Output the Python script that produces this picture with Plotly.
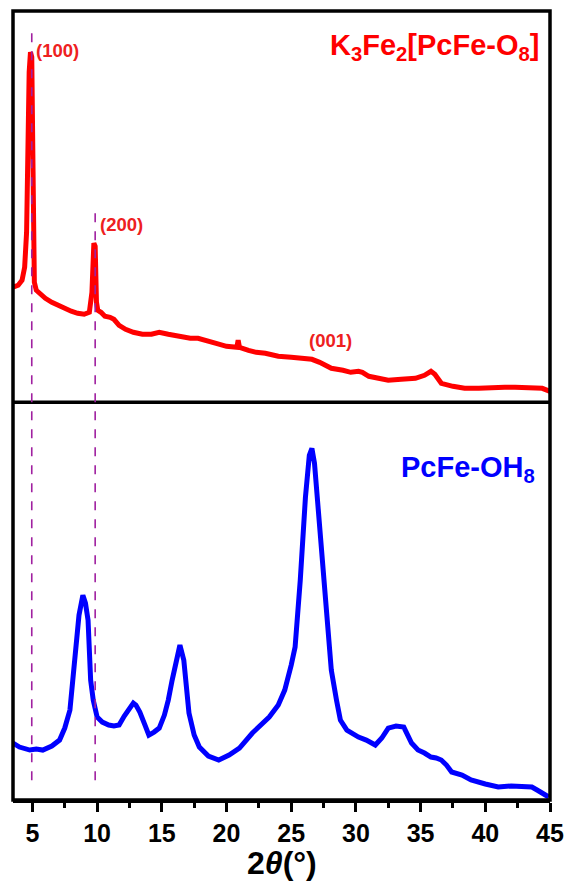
import plotly.graph_objects as go

# K3Fe2[PcFe-O8] (top, red) - 2theta (deg) and intensity (a.u.)
top_x = [3.5, 3.9, 4.2, 4.4, 4.55, 4.65, 4.75, 4.85, 4.95, 5.05, 5.15, 5.3, 5.6, 6.0,
         6.5, 7.0, 7.5, 8.0, 8.5, 9.0, 9.4, 9.6, 9.75, 9.85, 9.95, 10.05, 10.3, 10.6,
         11.0, 11.3, 11.7, 12.2, 12.8, 13.5, 14.2, 14.8, 15.5, 16.5, 17.2, 17.8, 18.5,
         19.2, 20.0, 20.8, 20.9, 21.0, 21.7, 22.3, 23.0, 24.0, 25.0, 25.6, 26.2, 26.6,
         27.2, 28.1, 29.0, 29.6, 30.2, 30.5, 31.0, 31.8, 32.5, 33.5, 34.6, 35.3, 35.8,
         36.1, 36.6, 37.5, 38.4, 39.5, 40.5, 41.5, 42.3, 43.0, 43.8, 44.4, 44.8, 45.0]
top_y = [115, 117, 122, 135, 170, 262, 330, 350, 345, 230, 120, 112, 108, 104,
         100, 97, 93, 91, 89, 88, 90, 110, 159, 156, 100, 92, 90, 86,
         85, 83, 77, 73, 70, 68, 68, 70, 68, 65, 64, 64, 61,
         59, 56, 55, 62, 55, 52, 50, 49, 46, 45, 44, 43, 43,
         40, 34, 32, 30, 31, 30, 26, 24, 22, 23, 24, 27, 31,
         28, 19, 16, 14, 14, 15, 15, 15, 15, 15, 14, 12, 11]

# PcFe-OH8 (bottom, blue)
bot_x = [3.5, 4.0, 4.8, 5.3, 5.8, 6.5, 7.1, 7.5, 7.9, 8.3, 8.6, 8.9, 9.1, 9.3, 9.5, 9.7,
         10.0, 10.4, 10.9, 11.3, 11.7, 12.1, 12.4, 12.8, 13.0, 13.3, 13.7, 14.0, 14.4,
         14.8, 15.2, 15.5, 15.8, 16.1, 16.4, 16.7, 16.9, 17.1, 17.5, 17.9, 18.6, 19.4,
         20.2, 21.0, 22.0, 22.7, 23.3, 24.0, 24.5, 25.0, 25.3, 25.7, 26.1, 26.4, 26.6,
         26.8, 27.1, 27.6, 28.1, 28.5, 28.8, 29.3, 29.7, 30.2, 30.8, 31.5, 32.0, 32.5,
         33.1, 33.7, 34.3, 34.8, 35.3, 35.8, 36.2, 36.6, 37.0, 37.4, 38.2, 38.9, 40.0,
         41.0, 42.0, 43.0, 43.6, 44.0, 44.5, 44.9]
bot_y = [57, 53, 50, 51, 50, 54, 60, 72, 90, 147, 185, 205, 197, 180, 120, 100,
         83, 78, 75, 74, 75, 84, 90, 97, 95, 88, 75, 65, 68,
         72, 85, 100, 120, 140, 155, 140, 110, 87, 65, 53, 44, 40,
         45, 52, 67, 75, 83, 95, 110, 135, 153, 220, 303, 345, 352,
         337, 287, 203, 130, 100, 80, 70, 67, 63, 60, 55, 62, 72,
         74, 73, 57, 50, 47, 43, 42, 40, 35, 28, 25, 20, 16,
         13, 14, 13, 13, 10, 6, 3]

tick_vals = [5, 10, 15, 20, 25, 30, 35, 40, 45]
tick_text = ["<b>%d</b>" % v for v in tick_vals]
peak_lines = [4.95, 9.85]
peak_tops = [0.975, 0.752]
hkl_labels = ["(100)", "(200)", "(001)"]
hkl_x = [5.15, 10.05, 26.2]
hkl_y = [352, 178, 62]

fig = go.Figure()
fig.add_trace(go.Scatter(x=top_x, y=top_y, mode="lines", line=dict(color="#FF0000", width=5),
                         xaxis="x2", yaxis="y2", showlegend=False, hoverinfo="skip"))
fig.add_trace(go.Scatter(x=bot_x, y=bot_y, mode="lines", line=dict(color="#0000FF", width=5),
                         xaxis="x", yaxis="y", showlegend=False, hoverinfo="skip"))

split = 0.504
fig.update_layout(
    width=575, height=892,
    margin=dict(l=13, r=23, t=11, b=92),
    paper_bgcolor="white", plot_bgcolor="white",
    font=dict(family="Liberation Sans, Arial, sans-serif", color="black"),
    xaxis=dict(domain=[0, 1], anchor="y", range=[3.5, 45], tickvals=tick_vals, ticktext=tick_text,
               ticks="outside", ticklen=9, tickwidth=3, tickcolor="black",
               showline=True, linewidth=3, linecolor="black", showgrid=False, zeroline=False,
               tickfont=dict(size=25, family="Liberation Sans, Arial, sans-serif", color="black"),
               minor=dict(ticks="outside", ticklen=5, tickwidth=3, tickcolor="black",
                          dtick=2.5, tick0=0, showgrid=False)),
    xaxis2=dict(domain=[0, 1], anchor="y2", matches="x", showticklabels=False, ticks="",
                showgrid=False, zeroline=False, showline=False),
    yaxis=dict(domain=[0, split], range=[0, 398], visible=False, fixedrange=True),
    yaxis2=dict(domain=[split, 1], range=[0, 391], visible=False, fixedrange=True),
)

# frame and divider
fig.add_shape(type="rect", xref="paper", yref="paper", x0=0, x1=1, y0=0, y1=1,
              line=dict(color="black", width=3.5))
fig.add_shape(type="line", xref="paper", yref="paper", x0=0, x1=1, y0=split, y1=split,
              line=dict(color="black", width=3.5))

# dashed reference lines
for px, pt in zip(peak_lines, peak_tops):
    fig.add_shape(type="line", xref="x", yref="paper", x0=px, x1=px, y0=0.025, y1=pt,
                  line=dict(color="#A020A0", width=1.6, dash="dash"))

for t, hx, hy in zip(hkl_labels, hkl_x, hkl_y):
    fig.add_annotation(x=hx, y=hy, xref="x2", yref="y2", text="<b>" + t + "</b>",
                       showarrow=False, xanchor="left", yanchor="middle",
                       font=dict(size=18.5, color="#EE2020"))

fig.add_annotation(x=0.985, y=0.955, xref="paper", yref="paper",
                   text="<b>K<sub>3</sub>Fe<sub>2</sub>[PcFe-O<sub>8</sub>]</b>",
                   showarrow=False, xanchor="right", yanchor="middle",
                   font=dict(size=29, color="#FF0000"))
fig.add_annotation(x=0.975, y=0.419, xref="paper", yref="paper",
                   text="<b>PcFe-OH<sub>8</sub></b>",
                   showarrow=False, xanchor="right", yanchor="middle",
                   font=dict(size=29, color="#0000FF"))

fig.add_annotation(x=0.5, y=-0.08, xref="paper", yref="paper",
                   text="<b>2</b><b><i>θ</i></b><b>(°)</b>",
                   showarrow=False, xanchor="center", yanchor="middle",
                   font=dict(size=32, color="black"))

fig.write_html("out.html")
